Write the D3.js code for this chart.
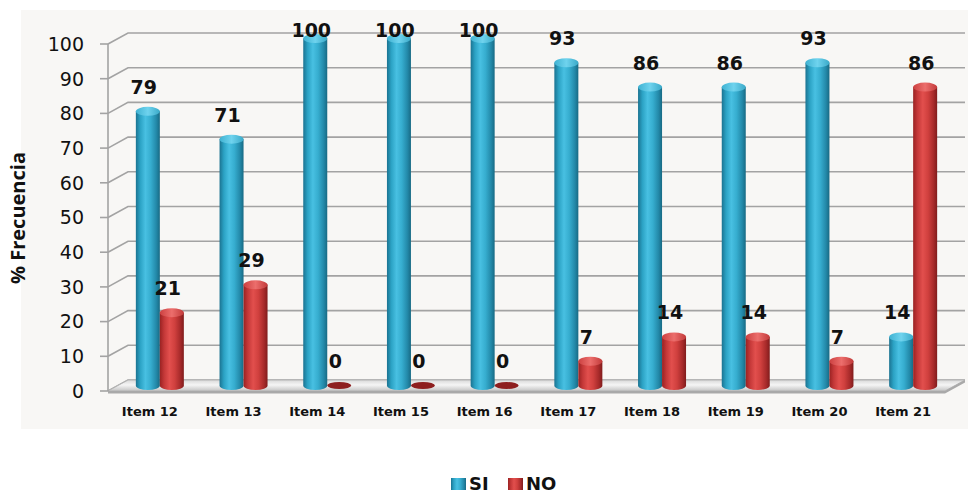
<!DOCTYPE html>
<html>
<head>
<meta charset="utf-8">
<script src="https://cdn.jsdelivr.net/npm/d3@7"></script>
<style>
  html, body { margin: 0; padding: 0; background: #ffffff; }
  svg { display: block; }
</style>
</head>
<body>
<svg id="chart" width="973" height="495"></svg>
<script>
// Survey results per item: percentage of "SI" and "NO" answers
const items = ["Item 12", "Item 13", "Item 14", "Item 15", "Item 16", "Item 17", "Item 18", "Item 19", "Item 20", "Item 21"];
const siValues = [79, 71, 100, 100, 100, 93, 86, 86, 93, 14];
const noValues = [21, 29, 0, 0, 0, 7, 14, 14, 7, 86];
const seriesNames = ["SI", "NO"];
const yTicks = [0, 10, 20, 30, 40, 50, 60, 70, 80, 90, 100];

(function () {
const svg = d3.select("#chart");

// Front plane of the 3D box and its depth offset
const plotLeft = 108, plotRight = 945, plotBottom = 391, plotTop = 44;
const depthX = 20, depthY = -11;

const y = d3.scaleLinear().domain([0, 100]).range([plotBottom, plotTop]);
const x0 = d3.scaleBand().domain(items).range([plotLeft, plotRight]).padding(0);
const barW = 24;
const x1 = d3.scaleBand().domain(seriesNames).range([-barW, barW]).padding(0);

const defs = svg.append("defs");
function hGrad(id, stops) {
  const g = defs.append("linearGradient").attr("id", id)
    .attr("x1", "0%").attr("x2", "100%").attr("y1", "0%").attr("y2", "0%");
  stops.forEach(s => g.append("stop").attr("offset", s[0]).attr("stop-color", s[1]));
}
hGrad("gSI", [["0%", "#1b7391"], ["18%", "#2ba2c4"], ["40%", "#48c0e2"], ["62%", "#36adcf"], ["85%", "#2389a9"], ["100%", "#186a84"]]);
hGrad("gNO", [["0%", "#9a2222"], ["18%", "#c43838"], ["40%", "#e24f4d"], ["62%", "#d0403e"], ["85%", "#a72a2a"], ["100%", "#801c1c"]]);
hGrad("gSITop", [["0%", "#3fb2d2"], ["50%", "#6fd3ee"], ["100%", "#3aa9c8"]]);
hGrad("gNOTop", [["0%", "#cc4040"], ["50%", "#ec6e6c"], ["100%", "#c23a3a"]]);
const fg = defs.append("linearGradient").attr("id", "gFloor")
  .attr("x1", "0%").attr("x2", "0%").attr("y1", "0%").attr("y2", "100%");
[["0%", "#d9d9d9"], ["45%", "#f5f5f5"], ["100%", "#c4c4c4"]]
  .forEach(s => fg.append("stop").attr("offset", s[0]).attr("stop-color", s[1]));

// Chart panel
svg.append("rect").attr("x", 21).attr("y", 10).attr("width", 947).attr("height", 419)
  .attr("fill", "#f8f7f5");

// Back-wall gridlines with the side-wall diagonal
const grid = svg.append("g");
yTicks.forEach(t => {
  const yy = y(t);
  grid.append("path")
    .attr("d", `M${plotLeft},${yy} L${plotLeft + depthX},${yy + depthY} L${plotRight + depthX},${yy + depthY}`)
    .attr("fill", "none").attr("stroke", "#a3a3a3").attr("stroke-width", 1.6);
});

// Floor slab
const fy = plotBottom;
svg.append("path")
  .attr("d", `M${plotLeft},${fy} L${plotLeft + depthX},${fy + depthY} L${plotRight + depthX},${fy + depthY} L${plotRight},${fy} Z`)
  .attr("fill", "url(#gFloor)").attr("stroke", "#b5b5b5").attr("stroke-width", 1);
svg.append("path")
  .attr("d", `M${plotLeft},${fy} L${plotRight},${fy} L${plotRight + depthX},${fy + depthY} L${plotRight + depthX},${fy + depthY + 2.5} L${plotRight},${fy + 2.5} L${plotLeft},${fy + 2.5} Z`)
  .attr("fill", "#a9a9a9");

// Vertical axis and ticks
svg.append("line").attr("x1", plotLeft).attr("x2", plotLeft).attr("y1", plotTop).attr("y2", plotBottom)
  .attr("stroke", "#a3a3a3").attr("stroke-width", 1.6);
const yAxis = svg.append("g");
yTicks.forEach(t => {
  yAxis.append("line").attr("x1", plotLeft - 8).attr("x2", plotLeft).attr("y1", y(t)).attr("y2", y(t))
    .attr("stroke", "#a3a3a3").attr("stroke-width", 1.6);
  yAxis.append("text").attr("x", 84).attr("y", y(t)).attr("dy", "0.36em")
    .attr("text-anchor", "end").attr("font-family", "DejaVu Sans").attr("font-size", 19)
    .attr("fill", "#111").text(t);
});

// Y title
svg.append("text")
  .attr("transform", `translate(25,218) rotate(-90)`)
  .attr("text-anchor", "middle").attr("font-family", "Open Sans").attr("font-weight", 700)
  .attr("font-size", 20).attr("fill", "#111").text("% Frecuencia");

// Category labels
items.forEach(it => {
  svg.append("text").attr("x", x0(it) + x0.bandwidth() / 2).attr("y", 416)
    .attr("text-anchor", "middle").attr("font-family", "DejaVu Sans").attr("font-weight", 700)
    .attr("font-size", 13).attr("fill", "#111").text(it);
});

// Cylinder bars placed halfway into the depth of the box
const rows = [];
items.forEach((it, i) => {
  rows.push({ item: it, s: "SI", v: siValues[i] });
  rows.push({ item: it, s: "NO", v: noValues[i] });
});
const ry = 4.5;
const bars = svg.append("g");
const labels = svg.append("g");
rows.forEach(d => {
  const cx = x0(d.item) + x0.bandwidth() / 2 + depthX / 2 + x1(d.s) + barW / 2;
  const yb = y(0) + depthY / 2;
  const yt = y(d.v) + depthY / 2;
  const g = bars.append("g");
  if (d.v > 0) {
    g.append("path")
      .attr("d", `M${cx - barW / 2},${yt} L${cx - barW / 2},${yb} A${barW / 2},${ry} 0 0 0 ${cx + barW / 2},${yb} L${cx + barW / 2},${yt} Z`)
      .attr("fill", d.s === "SI" ? "url(#gSI)" : "url(#gNO)");
    g.append("ellipse").attr("cx", cx).attr("cy", yt).attr("rx", barW / 2).attr("ry", ry)
      .attr("fill", d.s === "SI" ? "url(#gSITop)" : "url(#gNOTop)");
  } else {
    g.append("ellipse").attr("cx", cx).attr("cy", yb).attr("rx", barW / 2).attr("ry", ry - 1)
      .attr("fill", "#8e1f1f");
  }
  // value label
  const labelY = Math.max(yt - ry - 13, 37);
  labels.append("text").attr("x", cx - 4).attr("y", labelY)
    .attr("text-anchor", "middle").attr("font-family", "DejaVu Sans").attr("font-weight", 700)
    .attr("font-size", 19).attr("fill", "#111").text(d.v);
});

// Legend
const legend = svg.append("g");
const legendItems = [
  { s: "SI", x: 451, fill: "url(#gSI)" },
  { s: "NO", x: 508, fill: "url(#gNO)" }
];
legendItems.forEach(l => {
  legend.append("rect").attr("x", l.x).attr("y", 478).attr("width", 15).attr("height", 12)
    .attr("fill", l.fill);
  legend.append("text").attr("x", l.x + 18).attr("y", 490)
    .attr("font-family", "DejaVu Sans").attr("font-weight", 700).attr("font-size", 18)
    .attr("fill", "#111").text(l.s);
});
})();
</script>
</body>
</html>
